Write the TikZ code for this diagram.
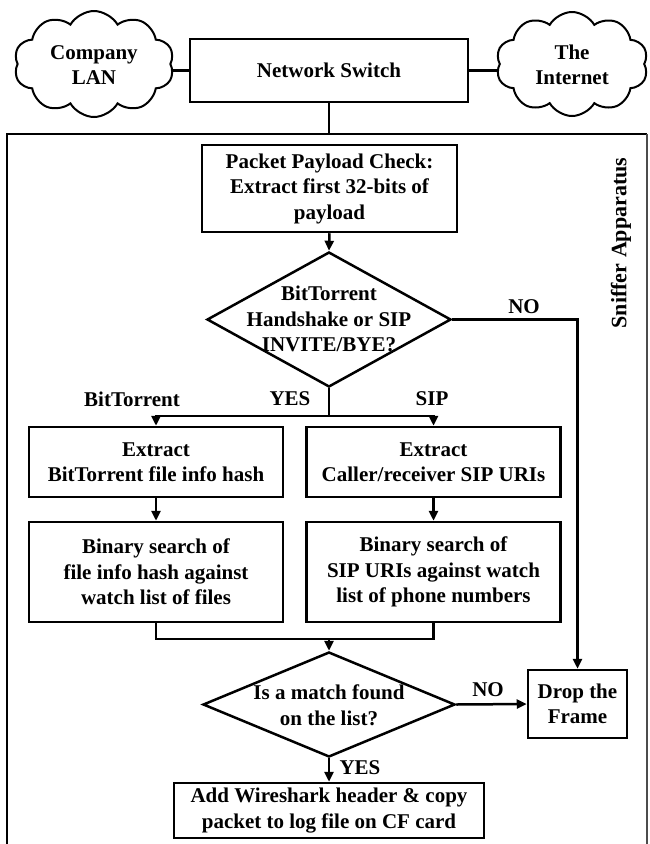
\documentclass[tikz,border=0pt]{standalone}
\usepackage{fontspec}
\setmainfont{Liberation Serif}
\usetikzlibrary{shapes.geometric,shapes.symbols,arrows.meta}
\begin{document}
\begin{tikzpicture}[x=1pt,y=-1pt,
  every node/.style={font=\bfseries\fontsize{21}{25.5}\selectfont},
  box/.style={draw, line width=2.5pt, align=center, inner sep=0pt},
  dia/.style={draw, diamond, line width=2.5pt, inner sep=0pt},
  cloudy/.style={draw, cloud, cloud puffs=10, cloud puff arc=120, line width=2pt, inner sep=0pt},
  lbl/.style={inner sep=0pt, align=center},
  conn/.style={line width=2.5pt},
  arr/.style={line width=2.5pt, -{Triangle[length=10pt,width=9pt]}},
]
\clip (0,0) rectangle (649,844);
\fill[white] (0,0) rectangle (649,844);

% frame
\draw[line width=2.5pt] (7,860) -- (7,134) -- (647,134);
\draw[line width=1.5pt, black!70] (647,134) -- (647,860);
\coordinate (ftop) at (329,134);

% top row
\node[box, minimum width=278, minimum height=63] (sw) at (329,70.5) {Network Switch};
\node[cloudy, minimum width=160, minimum height=106] (lan) at (94,64) {};
\node[lbl] (lant) at (94,65) {Company\\LAN};
\node[cloudy, minimum width=152, minimum height=104] (inet) at (572,64) {};
\node[lbl] (inett) at (572,65) {The\\Internet};
\draw[conn] (sw.west) -- (lan.east |- sw.west);
\draw[conn] (sw.east) -- (inet.west |- sw.east);
\draw[conn] (sw.south) -- (ftop);

\node[lbl, rotate=90] (sn) at (621,243) {\fontsize{22}{26}\selectfont Sniffer Apparatus};

% flow
\node[box, minimum width=255, minimum height=87] (pk) at (329.5,188.5) {Packet Payload Check:\\Extract first 32-bits of\\payload};
\node[dia, minimum width=244, minimum height=135] (d1) at (329,319.5) {};
\node[lbl] (d1t) at (329,319) {BitTorrent\\Handshake or SIP\\INVITE/BYE?};
\draw[arr] (pk.south) -- (d1.north);

\node[box, minimum width=254, minimum height=70] (ex1) at (156,462) {Extract\\BitTorrent file info hash};
\node[box, minimum width=254, minimum height=70] (ex2) at (433.5,462) {Extract\\Caller/receiver SIP URIs};
\node[box, minimum width=254, minimum height=100] (bs1) at (156,572) {Binary search of\\file info hash against\\watch list of files};
\node[box, minimum width=254, minimum height=100] (bs2) at (433.5,572) {Binary search of\\SIP URIs against watch\\list of phone numbers};

\coordinate (split) at (329,416);
\draw[conn] (d1.south) -- (split);
\draw[arr] (split) -| (ex1.north);
\draw[arr] (split) -| (ex2.north);
\draw[arr] (ex1.south) -- (bs1.north);
\draw[arr] (ex2.south) -- (bs2.north);

\node[lbl] (lbt) at (132,399) {BitTorrent};
\node[lbl] (lyes1) at (290,399) {YES};
\node[lbl] (lsip) at (432,399) {SIP};

\coordinate (merge) at (329,639);
\node[dia, minimum width=252, minimum height=105] (d2) at (329,704.5) {};
\node[lbl] (d2t) at (329,705) {Is a match found\\on the list?};
\draw[conn] (bs1.south) |- (merge);
\draw[conn] (bs2.south) |- (merge);
\draw[arr] (merge) -- (d2.north);

\node[box, minimum width=99, minimum height=68] (drop) at (577.5,704) {Drop the\\Frame};
\draw[arr] (d2.east) -- (drop.west);
\draw[arr] (d1.east) -| (drop.north);
\node[lbl] (lno1) at (524,307) {NO};
\node[lbl] (lno2) at (488,690) {NO};

\node[box, minimum width=310, minimum height=55] (add) at (329,810.5) {Add Wireshark header \& copy\\packet to log file on CF card};
\draw[arr] (d2.south) -- (add.north);
\node[lbl] (lyes2) at (360,768) {YES};
\end{tikzpicture}
\end{document}
